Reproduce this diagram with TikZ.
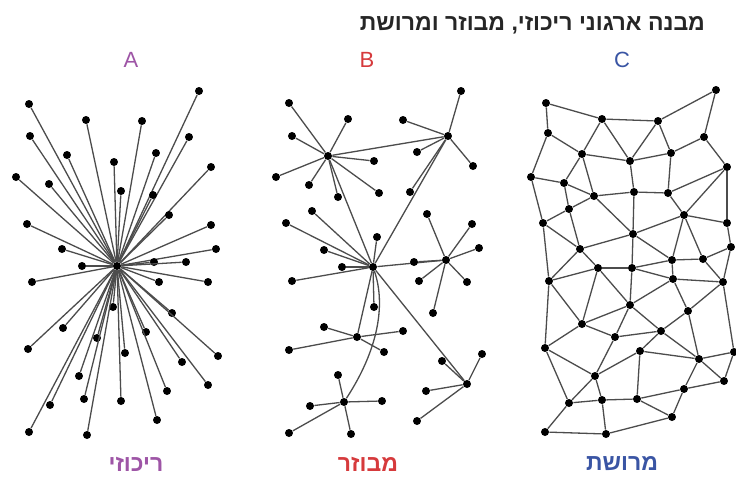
\documentclass[tikz,border=0pt]{standalone}
\usepackage{fontspec}
\setmainfont{Liberation Sans}
\newfontfamily\hebfont[Script=Hebrew]{Liberation Sans}
\TeXXeTstate=1
\definecolor{viola}{HTML}{9E55A6}
\definecolor{rosso}{HTML}{D63A3C}
\definecolor{blu}{HTML}{3A55A4}

\begin{document}
\begin{tikzpicture}[x=.5pt, y=-.5pt,
    punto/.style={circle, fill=black, inner sep=0pt, minimum size=4pt},
    filo/.style={draw=black!70, line width=.65pt},
    lettera/.style={font=\fontsize{11}{13}\selectfont},
    etichetta/.style={font=\hebfont\bfseries\fontsize{11.5}{14}\selectfont},
    titolo/.style={font=\hebfont\bfseries\fontsize{11.5}{14}\selectfont, text=black!85, anchor=east}]

  \useasboundingbox (0,0) rectangle (736,479);
  \fill[white] (0,0) rectangle (736,479);

  \node[titolo] (tit) at (712,25) {\beginR מבנה ארגוני ריכוזי, מבוזר ומרושת\endR};
  \node[lettera, text=viola] (labA) at (131,60) {A};
  \node[lettera, text=rosso] (labB) at (367,60) {B};
  \node[lettera, text=blu]   (labC) at (622,60) {C};

  \node[punto] (A) at (117,266) {};
  \foreach \x/\y [count=\i] in {29/104,199/91,86/120,142/121,30/136,189/137,67/155,156/153,
      114/162,211/167,16/177,49/184,121/191,153/195,169/215,27/224,211/225,62/249,216/249,
      82/266,154/262,186/262,32/282,159/282,208/282,113/307,172/313,63/328,146/332,97/338,
      28/349,125/353,218/356,182/362,79/376,208/385,167/391,84/399,121/401,50/405,157/420,
      29/432,87/435}
    { \node[punto] (a\i) at (\x,\y) {}; \draw[filo] (A) -- (a\i); }

  \node[punto] (B1) at (328,156) {};
  \node[punto] (B2) at (448,136) {};
  \node[punto] (B3) at (373,267) {};
  \node[punto] (B4) at (446,260) {};
  \node[punto] (B5) at (357,337) {};
  \node[punto] (B6) at (467,384) {};
  \node[punto] (B7) at (344,402) {};
  \foreach \p/\q in {B1/B2,B1/B3,B2/B3,B3/B4,B3/B5,B3/B6} { \draw[filo] (\p) -- (\q); }
  \draw[filo] (B3) .. controls (386,305) and (378,350) .. (B7);

  \foreach \x/\y [count=\i] in {289/103,348/119,292/136,374/161,276/177,309/185,338/197,379/193}
    { \node[punto] (b1-\i) at (\x,\y) {}; \draw[filo] (B1) -- (b1-\i); }
  \foreach \x/\y [count=\i] in {461/91,403/120,417/152,473/166,410/192}
    { \node[punto] (b2-\i) at (\x,\y) {}; \draw[filo] (B2) -- (b2-\i); }
  \foreach \x/\y [count=\i] in {312/211,286/223,377/237,324/250,342/267,292/281,374/307}
    { \node[punto] (b3-\i) at (\x,\y) {}; \draw[filo] (B3) -- (b3-\i); }
  \foreach \x/\y [count=\i] in {427/214,472/224,479/248,414/262,419/281,467/282,433/313}
    { \node[punto] (b4-\i) at (\x,\y) {}; \draw[filo] (B4) -- (b4-\i); }
  \foreach \x/\y [count=\i] in {324/327,403/331,289/350,384/352}
    { \node[punto] (b5-\i) at (\x,\y) {}; \draw[filo] (B5) -- (b5-\i); }
  \foreach \x/\y [count=\i] in {442/361,482/354,426/391,417/421}
    { \node[punto] (b6-\i) at (\x,\y) {}; \draw[filo] (B6) -- (b6-\i); }
  \foreach \x/\y [count=\i] in {338/375,310/406,382/401,289/433,351/434}
    { \node[punto] (b7-\i) at (\x,\y) {}; \draw[filo] (B7) -- (b7-\i); }

  \foreach \x/\y [count=\i] in {546/103,716/90,602/119,658/121,548/133,704/137,582/154,630/161,
      671/153,727/167,531/177,564/183,634/192,668/193,594/196,569/209,684/215,543/223,727/223,
      633/234,580/249,731/247,672/260,703/259,598/268,632/268,549/281,673/279,723/282,630/305,
      688/311,582/324,661/331,615/337,545/348,640/351,699/359,734/352,595/376,724/381,684/389,
      569/403,602/400,637/399,672/417,545/432,606/434}
    { \node[punto] (c\i) at (\x,\y) {}; }
  \foreach \p/\q in {1/3,1/5,3/4,4/2,2/6,3/7,3/8,4/8,4/9,5/7,5/11,7/8,7/12,7/15,8/9,8/13,9/6,
      9/14,6/10,11/12,11/18,12/15,12/16,15/13,15/16,15/20,16/18,16/21,18/21,18/27,13/14,13/20,
      14/10,14/17,10/17,10/19,17/19,17/20,17/23,17/24,19/22,20/21,20/23,20/26,21/25,21/27,
      22/24,22/29,23/24,23/28,24/29,25/26,25/27,25/30,25/32,26/23,26/28,26/30,27/32,27/35,
      28/29,28/30,28/31,29/31,29/38,30/32,30/33,30/34,31/33,31/37,32/34,32/35,33/34,33/36,
      33/37,34/39,35/39,35/42,36/37,36/39,36/44,37/38,37/40,37/41,38/40,39/42,39/43,40/41,
      41/44,41/45,42/43,42/46,43/44,43/47,44/45,45/47,46/47}
    { \draw[filo] (c\p) -- (c\q); }

  \node[etichetta, text=viola] (nomeA) at (136,464) {\beginR ריכוזי\endR};
  \node[etichetta, text=rosso] (nomeB) at (368,464) {\beginR מבוזר\endR};
  \node[etichetta, text=blu]   (nomeC) at (622,464) {\beginR מרושת\endR};
\end{tikzpicture}
\end{document}
